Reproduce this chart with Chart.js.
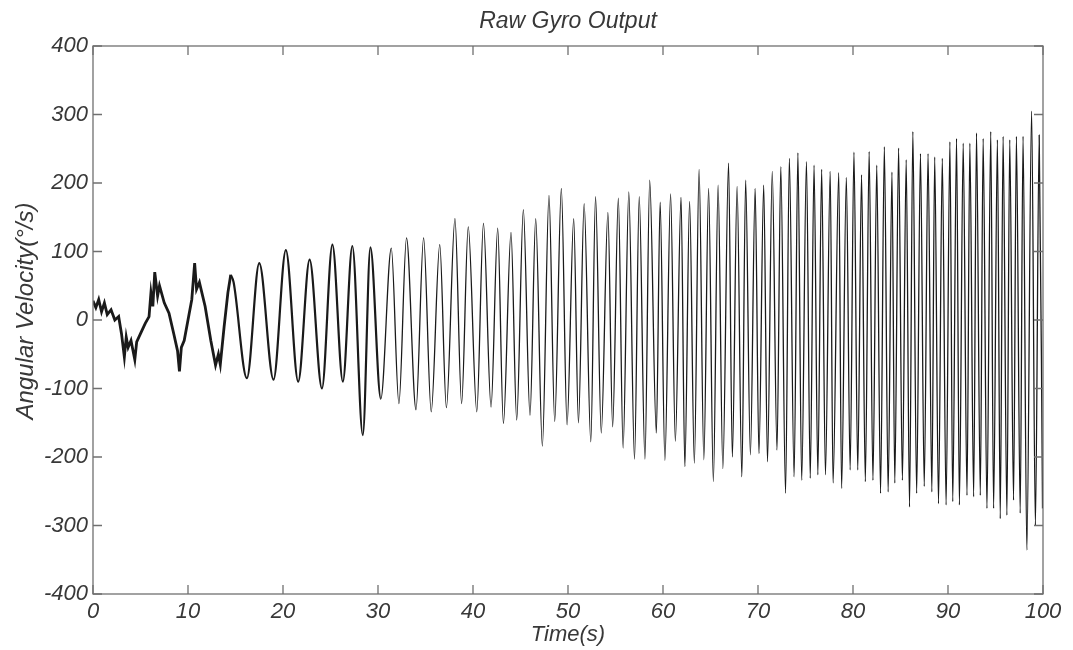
<!DOCTYPE html>
<html>
<head>
<meta charset="utf-8">
<script src="https://cdn.jsdelivr.net/npm/chart.js@4"></script>
<style>
  html, body { margin: 0; padding: 0; background: #fff; }
  #wrap { width: 1073px; height: 650px; }
</style>
</head>
<body>
<div id="wrap"><canvas id="gyroChart" width="1073" height="650"></canvas></div>
<script>
// turning points (time in s, rate in deg/s)
const noisyTime = [0, 0.3, 0.6, 0.9, 1.2, 1.5, 1.9, 2.3, 2.7, 3.0, 3.3, 3.5, 3.7, 4.0, 4.4, 4.6, 5.0, 5.5, 5.9, 6.1, 6.3, 6.5, 6.8, 7.0, 7.5, 8.0, 8.5, 8.9, 9.1, 9.3, 9.6, 10.0, 10.4, 10.7, 10.9, 11.2, 11.8, 12.4, 12.9, 13.2, 13.4, 13.8, 14.2, 14.5];
const noisyRate = [28, 18, 30, 12, 25, 8, 15, 0, 5, -20, -54, -25, -40, -30, -58, -32, -20, -5, 5, 40, 20, 70, 35, 50, 25, 10, -20, -45, -75, -40, -30, 0, 30, 83, 45, 55, 20, -30, -66, -50, -65, -10, 40, 66];

const earlyTime = [14.5, 14.8, 16.2, 17.5, 19.0, 20.3, 21.6, 22.8, 24.1, 25.2, 26.3, 27.3];
const earlyRate = [66, 55, -85, 83, -87, 102, -90, 88, -100, 110, -90, 108];

const midTime = [28.4, 29.2, 30.3, 31.4, 32.2, 33.0, 34.0, 34.8, 35.6, 36.5, 37.2, 38.1, 38.8, 39.5, 40.4, 41.1, 41.9, 42.6, 43.2, 44.0, 44.6, 45.3, 46.0, 46.6, 47.3, 48.0, 48.6, 49.3, 49.9, 50.6, 51.1, 51.7, 52.4, 52.9, 53.5, 54.2, 54.7, 55.3, 55.8, 56.4, 57.0, 57.5, 58.1, 58.6, 59.3, 59.7];
const midRate = [-168, 106, -115, 105, -122, 120, -131, 120, -134, 110, -128, 148, -122, 136, -134, 141, -127, 134, -151, 128, -146, 161, -139, 148, -184, 182, -148, 192, -153, 148, -150, 170, -178, 180, -165, 157, -156, 178, -187, 187, -203, 180, -203, 204, -165, 172];

const lateTime = [60.2, 60.8, 61.3, 61.9, 62.3, 62.8, 63.3, 63.8, 64.3, 64.8, 65.3, 65.8, 66.3, 66.9, 67.3, 67.8, 68.3, 68.7, 69.2, 69.7, 70.1, 70.6, 71.0, 71.5, 72.0, 72.4, 72.9, 73.3, 73.8, 74.2, 74.6, 75.1, 75.5, 75.9, 76.3, 76.7, 77.1, 77.6, 77.9, 78.5, 78.8, 79.3, 79.7];
const lateRate = [-205, 184, -177, 179, -214, 173, -209, 220, -204, 192, -236, 197, -217, 229, -200, 195, -229, 204, -197, 192, -195, 197, -207, 217, -190, 224, -253, 236, -229, 244, -234, 231, -231, 226, -226, 220, -226, 217, -238, 215, -246, 208, -219];

const endTime = [80.1, 80.5, 80.9, 81.3, 81.7, 82.1, 82.5, 82.9, 83.3, 83.7, 84.1, 84.4, 84.8, 85.2, 85.6, 85.95, 86.3, 86.7, 87.1, 87.5, 87.9, 88.3, 88.6, 89.0, 89.4, 89.8, 90.2, 90.5, 90.9, 91.2, 91.6, 92.0, 92.3, 92.7, 93.0, 93.4, 93.7, 94.1, 94.5, 94.8, 95.2, 95.5, 95.8, 96.2, 96.5, 96.9, 97.2, 97.6, 97.9, 98.3, 98.8, 99.2, 99.6, 99.95];
const endRate = [245, -219, 212, -236, 246, -234, 226, -253, 253, -251, 216, -238, 251, -234, 234, -273, 275, -253, 243, -243, 243, -251, 238, -268, 236, -270, 260, -265, 265, -270, 258, -256, 258, -258, 273, -256, 265, -275, 275, -275, 263, -290, 268, -285, 263, -263, 268, -282, 268, -336, 305, -300, 270, -275];

const xTicks = [0, 10, 20, 30, 40, 50, 60, 70, 80, 90, 100];
const yTicks = [-400, -300, -200, -100, 0, 100, 200, 300, 400];

const toPoints = (ts, vs) => ts.map((t, i) => ({ x: t, y: vs[i] }));
const noisyPoints = toPoints(noisyTime, noisyRate);
const sweepPoints = toPoints(earlyTime.concat(midTime, lateTime, endTime), earlyRate.concat(midRate, lateRate, endRate));

const fontFamily = "'Liberation Sans', Arial, sans-serif";
const labelFont = { family: fontFamily, size: 22, style: 'italic' };
const inkColor = '#383838';

// box round the plot with short inward ticks, plus the title and the y label
const frameTicks = {
  id: 'frameTicks',
  afterDatasetsDraw(chart) {
    const { ctx, chartArea: a, scales: { x, y } } = chart;
    ctx.save();
    ctx.strokeStyle = '#707070';
    ctx.lineWidth = 1.3;
    ctx.strokeRect(a.left, a.top, a.right - a.left, a.bottom - a.top);
    ctx.beginPath();
    xTicks.forEach(v => {
      const px = x.getPixelForValue(v);
      ctx.moveTo(px, a.bottom); ctx.lineTo(px, a.bottom - 9);
      ctx.moveTo(px, a.top); ctx.lineTo(px, a.top + 9);
    });
    yTicks.forEach(v => {
      const py = y.getPixelForValue(v);
      ctx.moveTo(a.left, py); ctx.lineTo(a.left + 9, py);
      ctx.moveTo(a.right, py); ctx.lineTo(a.right - 9, py);
    });
    ctx.stroke();

    ctx.fillStyle = inkColor;
    ctx.textAlign = 'center';
    ctx.textBaseline = 'middle';
    ctx.font = 'italic 23px ' + fontFamily;
    ctx.fillText('Raw Gyro Output', (a.left + a.right) / 2, 22);

    ctx.translate(26, (a.top + a.bottom) / 2 - 9);
    ctx.rotate(-Math.PI / 2);
    ctx.font = 'italic 24px ' + fontFamily;
    ctx.fillText('Angular Velocity(°/s)', 0, 0);
    ctx.restore();
  }
};

const ctx = document.getElementById('gyroChart').getContext('2d');
new Chart(ctx, {
  type: 'line',
  data: {
    datasets: [
      {
        // slow, noisy start: looks like a thick jagged band
        label: 'start',
        data: noisyPoints,
        borderColor: '#1a1a1a',
        borderWidth: 2.8,
        pointRadius: 0,
        tension: 0
      },
      {
        label: 'sweep',
        data: sweepPoints,
        borderColor: '#1a1a1a',
        borderWidth: 1.3,
        pointRadius: 0,
        cubicInterpolationMode: 'monotone',
        segment: {
          borderWidth: c => c.p0.parsed.x < 30 ? 2.2 : 1.3
        }
      }
    ]
  },
  options: {
    responsive: false,
    animation: false,
    layout: { padding: { left: 0, right: 30, top: 46, bottom: 0 } },
    plugins: {
      legend: { display: false },
      tooltip: { enabled: false },
      title: { display: false }
    },
    scales: {
      x: {
        type: 'linear',
        min: 0,
        max: 100,
        afterFit: s => { s.height = 56; },
        afterBuildTicks: s => { s.ticks = xTicks.map(v => ({ value: v })); },
        grid: { display: false, drawTicks: false },
        border: { display: false },
        ticks: { color: inkColor, font: labelFont, padding: 5, maxRotation: 0 },
        title: { display: true, text: 'Time(s)', color: inkColor, font: labelFont, padding: { top: 0, bottom: 2 } }
      },
      y: {
        type: 'linear',
        min: -400,
        max: 400,
        afterFit: s => { s.width = 93; },
        afterBuildTicks: s => { s.ticks = yTicks.map(v => ({ value: v })); },
        grid: { display: false, drawTicks: false },
        border: { display: false },
        ticks: { color: inkColor, font: labelFont, padding: 5 },
        title: { display: false }
      }
    }
  },
  plugins: [frameTicks]
});
</script>
</body>
</html>
